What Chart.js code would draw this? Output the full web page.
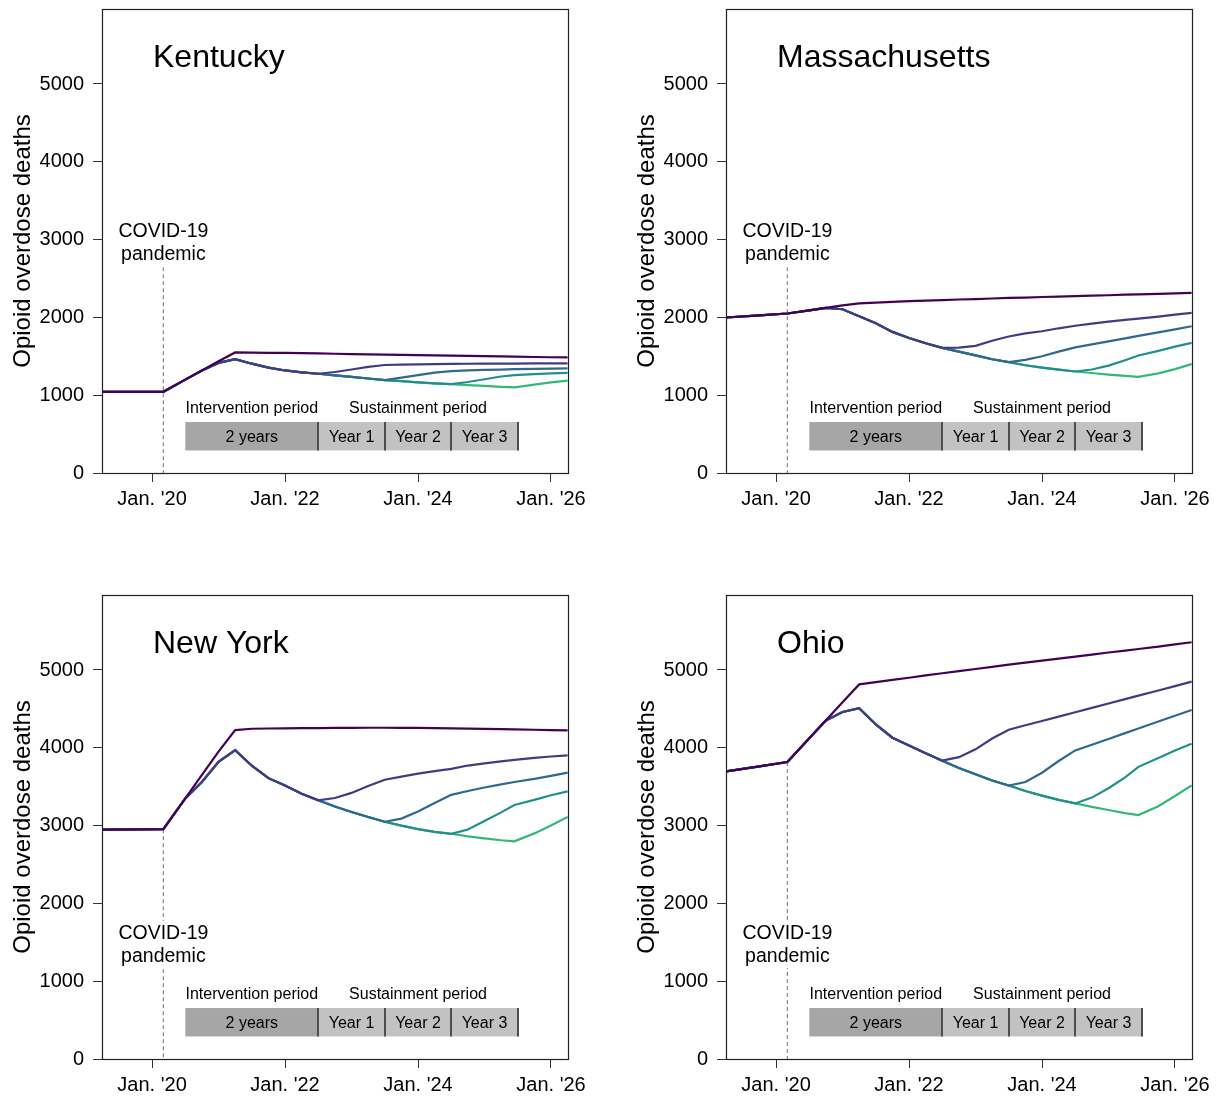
<!DOCTYPE html>
<html>
<head>
<meta charset="utf-8">
<script src="https://cdn.jsdelivr.net/npm/chart.js@4.4.0/dist/chart.umd.min.js"></script>
<style>
  body { margin: 0; background: #fff; width: 1221px; height: 1097px; overflow: hidden; position: relative; }
  canvas { position: absolute; }
</style>
</head>
<body>
<canvas id="c0" width="610" height="511" style="left:0;top:0"></canvas>
<canvas id="c1" width="610" height="511" style="left:624px;top:0"></canvas>
<canvas id="c2" width="610" height="511" style="left:0;top:586px"></canvas>
<canvas id="c3" width="610" height="511" style="left:624px;top:586px"></canvas>
<script>
// time points (decimal years)
const years = [2019.25, 2019.75, 2020.17, 2020.5, 2020.75, 2021.0, 2021.25, 2021.5, 2021.75, 2022.0,
  2022.25, 2022.5, 2022.75, 2023.0, 2023.25, 2023.5, 2023.75, 2024.0, 2024.25, 2024.5,
  2024.75, 2025.0, 2025.25, 2025.45, 2025.75, 2026.0, 2026.25];
const xTicks = [2020, 2022, 2024, 2026];
const xTickLabels = ["Jan. '20", "Jan. '22", "Jan. '24", "Jan. '26"];
const yTicks = [0, 1000, 2000, 3000, 4000, 5000];
const states = ['Kentucky', 'Massachusetts', 'New York', 'Ohio'];

// Kentucky
const ky1 = [1044,1044,1044,1200,1318,1436,1550,1547,1545,1543,1540,1537,1533,1528,1525,1522,1518,1515,1512,1508,1505,1502,1498,1495,1491,1488,1485];
const ky2 = [1044,1044,1044,1200,1318,1415,1463,1405,1355,1318,1293,1276,1298,1330,1365,1388,1393,1397,1400,1402,1404,1405,1406,1407,1408,1409,1410];
const ky3 = [1044,1044,1044,1200,1318,1415,1463,1405,1355,1318,1293,1276,1255,1235,1215,1195,1225,1258,1290,1310,1318,1325,1330,1334,1338,1341,1344];
const ky4 = [1044,1044,1044,1200,1318,1415,1463,1405,1355,1318,1293,1276,1255,1235,1215,1195,1180,1165,1152,1142,1170,1205,1240,1258,1270,1280,1288];
const ky5 = [1044,1044,1044,1200,1318,1415,1463,1405,1355,1318,1293,1276,1255,1235,1215,1195,1180,1165,1152,1142,1130,1120,1108,1100,1135,1165,1188];

// Massachusetts
const ma1 = [1999,2027,2050,2091,2123,2154,2181,2190,2200,2208,2215,2222,2230,2236,2243,2250,2255,2262,2268,2273,2280,2285,2292,2296,2302,2308,2315];
const ma2 = [1999,2027,2050,2091,2123,2105,2015,1925,1814,1735,1668,1608,1612,1635,1700,1755,1795,1822,1860,1893,1920,1945,1968,1985,2010,2035,2058];
const ma3 = [1999,2027,2050,2091,2123,2105,2015,1925,1814,1735,1668,1608,1560,1512,1462,1425,1455,1500,1560,1615,1654,1692,1731,1762,1808,1847,1886];
const ma4 = [1999,2027,2050,2091,2123,2105,2015,1925,1814,1735,1668,1608,1560,1512,1462,1425,1385,1355,1328,1305,1330,1380,1450,1510,1570,1625,1673];
const ma5 = [1999,2027,2050,2091,2123,2105,2015,1925,1814,1735,1668,1608,1560,1512,1462,1425,1385,1355,1328,1305,1285,1265,1248,1236,1280,1335,1399];

// New York
const ny1 = [2949,2951,2953,3350,3651,3952,4228,4245,4248,4250,4252,4254,4256,4257,4258,4258,4257,4255,4253,4250,4247,4243,4240,4237,4232,4228,4223];
const ny2 = [2949,2951,2953,3350,3560,3820,3970,3770,3610,3515,3410,3325,3355,3420,3510,3590,3630,3668,3700,3730,3772,3800,3825,3845,3870,3888,3902];
const ny3 = [2949,2951,2953,3350,3560,3820,3970,3770,3610,3515,3410,3325,3245,3175,3110,3050,3090,3180,3290,3395,3445,3490,3530,3560,3600,3640,3680];
const ny4 = [2949,2951,2953,3350,3560,3820,3970,3770,3610,3515,3410,3325,3245,3175,3110,3050,3000,2955,2920,2895,2950,3060,3170,3265,3330,3390,3440];
const ny5 = [2949,2951,2953,3350,3560,3820,3970,3770,3610,3515,3410,3325,3245,3175,3110,3050,3000,2955,2920,2895,2862,2835,2812,2798,2900,3000,3110];

// Ohio
const oh1 = [3697,3762,3817,4123,4355,4587,4815,4845,4873,4900,4930,4958,4985,5013,5040,5068,5095,5120,5147,5172,5198,5225,5250,5270,5300,5330,5357];
const oh2 = [3697,3762,3817,4123,4352,4460,4510,4300,4130,4030,3930,3835,3880,3980,4120,4233,4290,4345,4401,4457,4513,4569,4625,4670,4737,4793,4850];
const oh3 = [3697,3762,3817,4123,4352,4460,4510,4300,4130,4030,3930,3835,3740,3660,3580,3515,3560,3680,3830,3966,4040,4114,4189,4248,4337,4412,4486];
const oh4 = [3697,3762,3817,4123,4352,4460,4510,4300,4130,4030,3930,3835,3740,3660,3580,3515,3445,3385,3330,3285,3360,3480,3620,3755,3870,3965,4053];
const oh5 = [3697,3762,3817,4123,4352,4460,4510,4300,4130,4030,3930,3835,3740,3660,3580,3515,3445,3385,3330,3285,3240,3200,3160,3135,3250,3380,3517];

// annotations
const covidDate = 2020.17;
const covidLineTop = [2645, 2645, 2953, 3817];
const covidLabelY = [2882, 2882, 1400, 1400];
const phaseEdges = [2020.5, 2022.5, 2023.5, 2024.5, 2025.5];
const phaseLabels = ['2 years', 'Year 1', 'Year 2', 'Year 3'];
const periodLabels = ['Intervention period', 'Sustainment period'];
const periodCenters = [2021.5, 2024.0];

const FONT = "'Liberation Sans', Arial, Helvetica, sans-serif";
const lineColors = ['#440154', '#443A83', '#31688E', '#21908C', '#35B779'];

const decor = {
  id: 'decor',
  beforeDatasetsDraw(chart) {
    const {ctx, scales: {x, y}} = chart;
    const top = y.getPixelForValue(655), bot = y.getPixelForValue(290);
    ctx.save();
    ctx.font = '16px ' + FONT;
    ctx.textAlign = 'center';
    for (let i = 0; i < phaseLabels.length; i++) {
      const x0 = x.getPixelForValue(phaseEdges[i]), x1 = x.getPixelForValue(phaseEdges[i + 1]);
      ctx.fillStyle = i === 0 ? '#a6a6a6' : '#c2c2c2';
      ctx.fillRect(x0, top, x1 - x0, bot - top);
      ctx.fillStyle = '#000';
      ctx.textBaseline = 'middle';
      ctx.fillText(phaseLabels[i], (x0 + x1) / 2, (top + bot) / 2 + 1);
    }
    ctx.strokeStyle = '#4d4d4d';
    ctx.lineWidth = 2;
    for (let i = 1; i < phaseEdges.length; i++) {
      const px = Math.round(x.getPixelForValue(phaseEdges[i]));
      ctx.beginPath(); ctx.moveTo(px, top); ctx.lineTo(px, bot); ctx.stroke();
    }
    ctx.textBaseline = 'alphabetic';
    periodLabels.forEach((s, i) => ctx.fillText(s, x.getPixelForValue(periodCenters[i]), top - 9));
    ctx.restore();
  },
  afterDraw(chart, args, opts) {
    const {ctx, chartArea: a, scales: {x, y}} = chart;
    ctx.save();
    const cx = x.getPixelForValue(covidDate), cy = y.getPixelForValue(opts.labelY);
    ctx.fillStyle = '#fff';
    ctx.fillRect(cx - 48, cy - 29, 96, 47);
    ctx.fillStyle = '#000';
    ctx.font = '19.5px ' + FONT;
    ctx.textAlign = 'center';
    ctx.textBaseline = 'alphabetic';
    ctx.fillText('COVID-19', cx, cy - 11.5);
    ctx.fillText('pandemic', cx, cy + 11.5);
    ctx.font = '32px ' + FONT;
    ctx.textAlign = 'left';
    ctx.fillText(opts.title, a.left + 51, a.top + 58);
    ctx.strokeStyle = '#222';
    ctx.lineWidth = 1.2;
    ctx.strokeRect(a.left + 0.5, a.top + 0.5, a.right - a.left, a.bottom - a.top);
    ctx.restore();
  }
};

function makeChart(idx, series) {
  const datasets = series.map((vals, k) => ({
    data: years.map((t, i) => ({x: t, y: vals[i]})),
    borderColor: lineColors[k],
    borderWidth: 2.2,
    pointRadius: 0,
    tension: 0
  }));
  datasets.push({
    data: [{x: covidDate, y: covidLineTop[idx]}, {x: covidDate, y: 0}],
    borderColor: '#8a8a8a',
    borderWidth: 1.2,
    borderDash: [4, 3],
    pointRadius: 0
  });
  const grid = {drawOnChartArea: false, tickLength: 9, color: '#333', lineWidth: 1};
  new Chart(document.getElementById('c' + idx), {
    type: 'line',
    data: {datasets},
    options: {
      responsive: false,
      animation: false,
      events: [],
      layout: {padding: {left: 0, top: 9, right: 42, bottom: 0}},
      plugins: {
        legend: {display: false},
        tooltip: {enabled: false},
        decor: {title: states[idx], labelY: covidLabelY[idx]}
      },
      scales: {
        x: {
          type: 'linear', min: 2019.247, max: 2026.256,
          afterBuildTicks: s => { s.ticks = xTicks.map(v => ({value: v})); },
          afterFit: s => { s.height = 38; s.paddingLeft = 0; s.paddingRight = 0; },
          ticks: {autoSkip: false, maxRotation: 0, padding: 5, color: '#000',
                  font: {family: FONT, size: 20}, callback: (v, i) => xTickLabels[i]},
          grid: grid,
          border: {display: false}
        },
        y: {
          min: 0, max: 5964,
          afterBuildTicks: s => { s.ticks = yTicks.map(v => ({value: v})); },
          afterFit: s => { s.width = 102; s.paddingTop = 0; s.paddingBottom = 0; },
          ticks: {padding: 9, color: '#000', font: {family: FONT, size: 20}, callback: v => String(v)},
          grid: grid,
          border: {display: false},
          title: {display: true, text: 'Opioid overdose deaths', color: '#000',
                  font: {family: FONT, size: 24}, padding: {top: 9, bottom: 0}}
        }
      }
    },
    plugins: [decor]
  });
}

makeChart(0, [ky1, ky2, ky3, ky4, ky5]);
makeChart(1, [ma1, ma2, ma3, ma4, ma5]);
makeChart(2, [ny1, ny2, ny3, ny4, ny5]);
makeChart(3, [oh1, oh2, oh3, oh4, oh5]);
</script>
</body>
</html>
